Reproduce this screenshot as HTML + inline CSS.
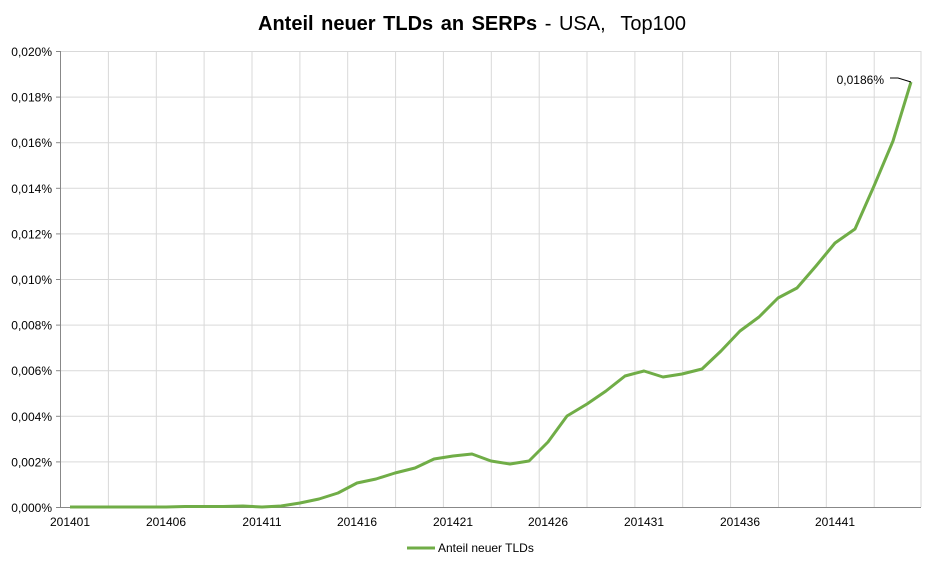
<!DOCTYPE html>
<html><head><meta charset="utf-8"><style>body{margin:0;background:#fff}svg{display:block}</style></head><body>
<svg width="946" height="568" xmlns="http://www.w3.org/2000/svg" font-family="Liberation Sans, sans-serif">
<rect width="946" height="568" fill="#fff"/>
<text x="472" y="30" text-anchor="middle" font-size="20" word-spacing="2" fill="#000"><tspan font-weight="bold">Anteil neuer TLDs an SERPs</tspan> - USA,&#160; Top100</text>
<g stroke="#d9d9d9" stroke-width="1">
<line x1="60" y1="51.5" x2="921" y2="51.5"/><line x1="60" y1="97.1" x2="921" y2="97.1"/><line x1="60" y1="142.7" x2="921" y2="142.7"/><line x1="60" y1="188.3" x2="921" y2="188.3"/><line x1="60" y1="233.9" x2="921" y2="233.9"/><line x1="60" y1="279.5" x2="921" y2="279.5"/><line x1="60" y1="325.1" x2="921" y2="325.1"/><line x1="60" y1="370.7" x2="921" y2="370.7"/><line x1="60" y1="416.3" x2="921" y2="416.3"/><line x1="60" y1="461.9" x2="921" y2="461.9"/>
<line x1="108.4" y1="51" x2="108.4" y2="507"/><line x1="156.3" y1="51" x2="156.3" y2="507"/><line x1="204.1" y1="51" x2="204.1" y2="507"/><line x1="252" y1="51" x2="252" y2="507"/><line x1="299.9" y1="51" x2="299.9" y2="507"/><line x1="347.7" y1="51" x2="347.7" y2="507"/><line x1="395.6" y1="51" x2="395.6" y2="507"/><line x1="443.4" y1="51" x2="443.4" y2="507"/><line x1="491.3" y1="51" x2="491.3" y2="507"/><line x1="539.2" y1="51" x2="539.2" y2="507"/><line x1="587" y1="51" x2="587" y2="507"/><line x1="634.9" y1="51" x2="634.9" y2="507"/><line x1="682.7" y1="51" x2="682.7" y2="507"/><line x1="730.6" y1="51" x2="730.6" y2="507"/><line x1="778.5" y1="51" x2="778.5" y2="507"/><line x1="826.3" y1="51" x2="826.3" y2="507"/><line x1="874.2" y1="51" x2="874.2" y2="507"/><line x1="921" y1="51" x2="921" y2="507"/>
</g>
<g stroke="#888" stroke-width="1">
<line x1="60.5" y1="51" x2="60.5" y2="507"/><line x1="56" y1="507.5" x2="921" y2="507.5"/>
<line x1="56" y1="51.5" x2="60" y2="51.5"/><line x1="56" y1="97.1" x2="60" y2="97.1"/><line x1="56" y1="142.7" x2="60" y2="142.7"/><line x1="56" y1="188.3" x2="60" y2="188.3"/><line x1="56" y1="233.9" x2="60" y2="233.9"/><line x1="56" y1="279.5" x2="60" y2="279.5"/><line x1="56" y1="325.1" x2="60" y2="325.1"/><line x1="56" y1="370.7" x2="60" y2="370.7"/><line x1="56" y1="416.3" x2="60" y2="416.3"/><line x1="56" y1="461.9" x2="60" y2="461.9"/>
</g>
<g font-size="12" fill="#000" text-anchor="end">
<text x="52" y="56">0,020%</text><text x="52" y="101.6">0,018%</text><text x="52" y="147.2">0,016%</text><text x="52" y="192.8">0,014%</text><text x="52" y="238.4">0,012%</text><text x="52" y="284">0,010%</text><text x="52" y="329.6">0,008%</text><text x="52" y="375.2">0,006%</text><text x="52" y="420.8">0,004%</text><text x="52" y="466.4">0,002%</text><text x="52" y="512">0,000%</text>
</g>
<g font-size="12" fill="#000" text-anchor="middle">
<text x="70" y="526">201401</text><text x="166" y="526">201406</text><text x="262" y="526">201411</text><text x="357" y="526">201416</text><text x="453" y="526">201421</text><text x="548" y="526">201426</text><text x="644" y="526">201431</text><text x="740" y="526">201436</text><text x="835" y="526">201441</text>
</g>
<polyline fill="none" stroke="#70ad47" stroke-width="3" stroke-linejoin="round" points="70,507 89,507 108,507 128,507 147,507 166,507 185,506.5 204,506.5 223,506.5 243,506 262,507 281,506 300,503 319,499 338,493 357,483 376,479 395,473 415,468 434,459 453,456 472,454 491,461 510,464 529,461 548,442 567,416 587,404 606,391 625,376 644,371 663,377 682,374 702,369 721,351 740,331 759,317 778,298 797,288 816,266 835,243 855,229 874,186 893,141 911,82"/>
<polyline fill="none" stroke="#000" stroke-width="1" points="890,78 898,78 911,82"/>
<text x="884" y="84" font-size="12" text-anchor="end" fill="#000">0,0186%</text>
<line x1="407" y1="548" x2="435" y2="548" stroke="#70ad47" stroke-width="3"/>
<text x="438" y="552" font-size="12" fill="#000">Anteil neuer TLDs</text>
</svg>
</body></html>
